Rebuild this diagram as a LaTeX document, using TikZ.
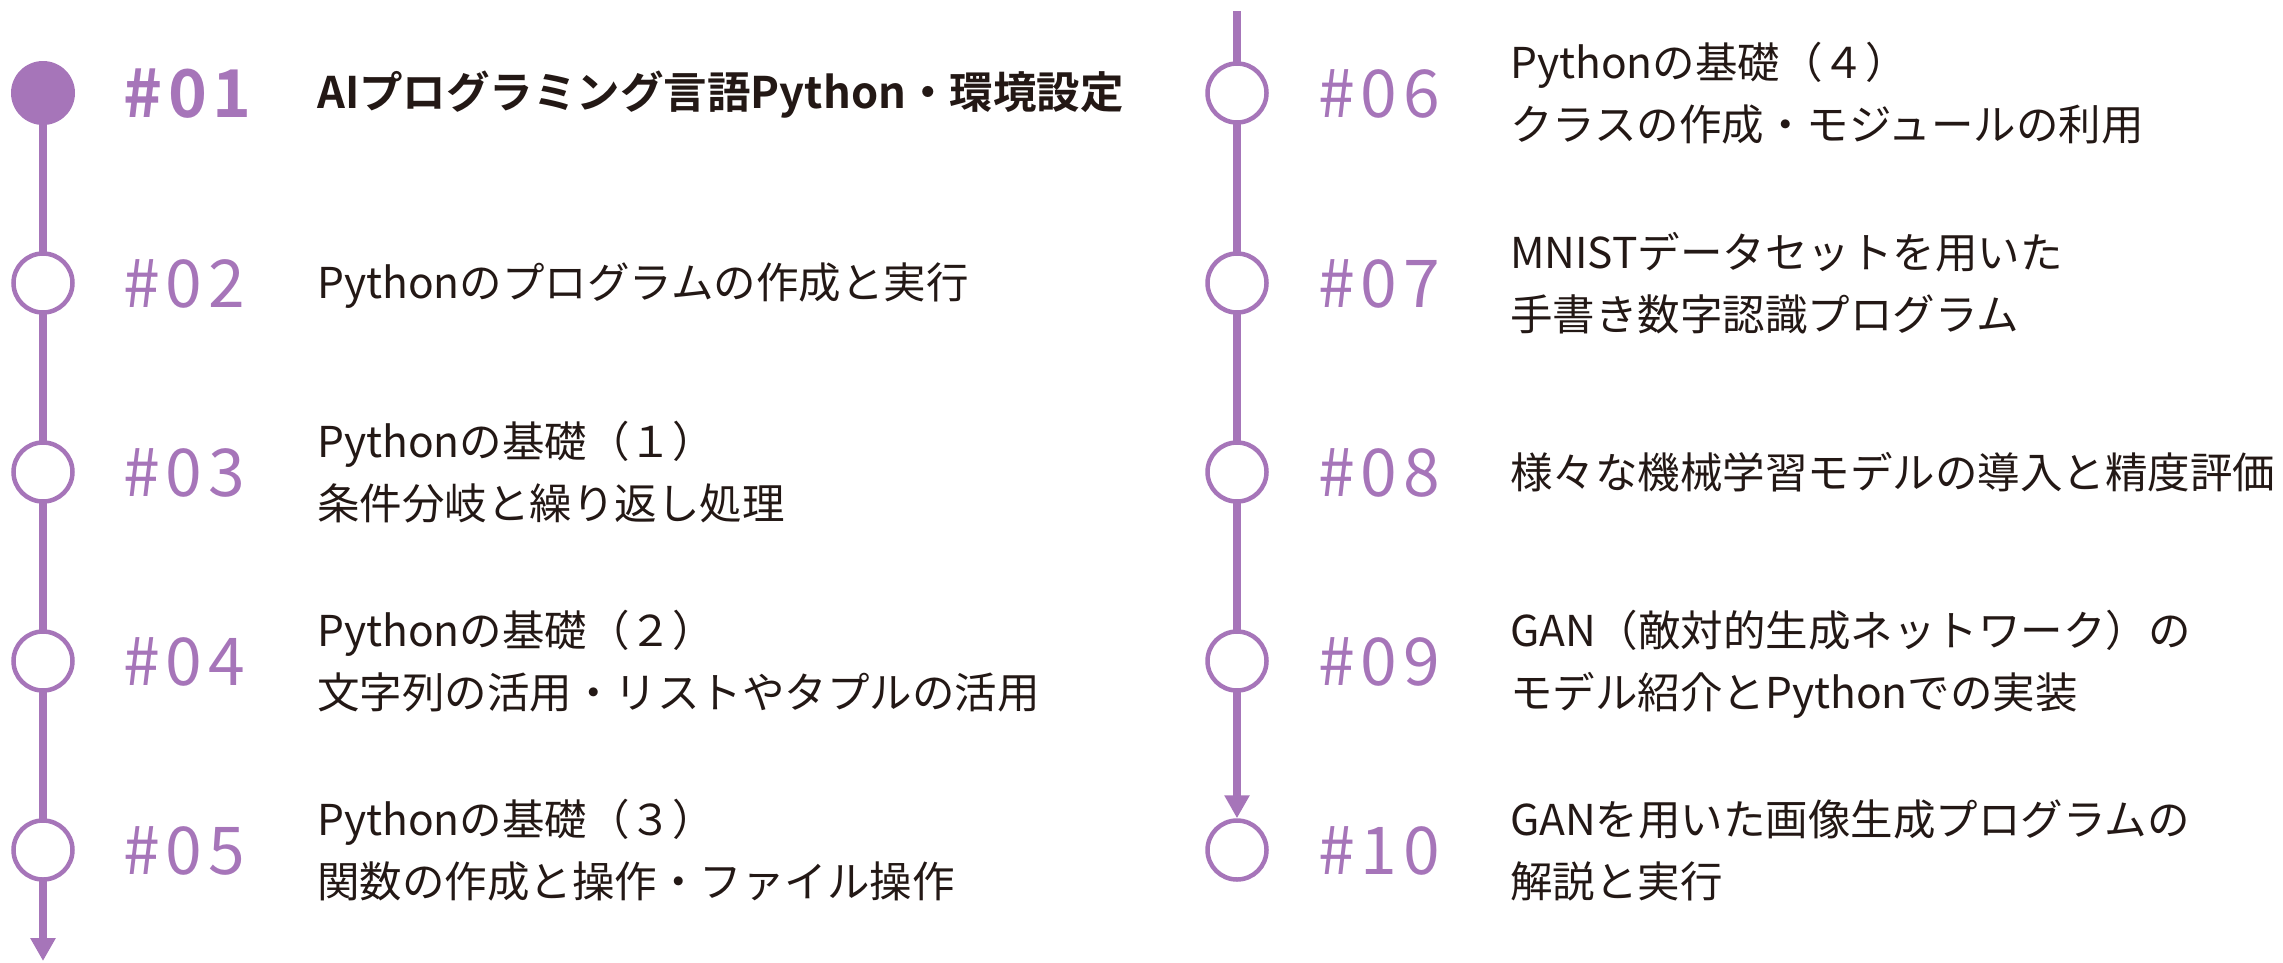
\documentclass[tikz,border=0pt]{standalone}
\usepackage{fontspec}
\setmainfont{Noto Sans CJK JP}[BoldFont={Noto Sans CJK JP Bold}]
\usetikzlibrary{arrows.meta}
\definecolor{pur}{HTML}{A675B9}
\definecolor{ink}{HTML}{231815}
\pgfdeclarelayer{bg}\pgfsetlayers{bg,main}
\begin{document}
\begin{tikzpicture}[x=1pt,y=-1pt,
  dot/.style={circle,draw=pur,line width=4.5pt,fill=white,minimum size=59pt,inner sep=0pt},
  dotfull/.style={circle,fill=pur,draw=none,minimum size=64pt,inner sep=0pt},
  num/.style={anchor=base west,text=pur,font=\fontsize{66}{66}\selectfont\addfontfeatures{LetterSpace=9},inner sep=0pt},
  desc/.style={anchor=base west,text=ink,font=\fontsize{42.5}{50}\selectfont,inner sep=0pt},
  rail/.style={draw=pur,line width=7.5pt},
  railtip/.style={-{Triangle[width=24pt,length=23pt]}}
]
\useasboundingbox (0,0) rectangle (2283,962);
% left column
\node[dotfull] (c1) at (43,93) {};
\node[dot] (c2) at (43,283) {};
\node[dot] (c3) at (43,472) {};
\node[dot] (c4) at (43,661) {};
\node[dot] (c5) at (43,850) {};
\coordinate (endL) at (43,961);
% right column
\coordinate (topR) at (1237,11);
\node[dot] (c6) at (1237,93) {};
\node[dot] (c7) at (1237,283) {};
\node[dot] (c8) at (1237,472) {};
\node[dot] (c9) at (1237,661) {};
\node[dot] (c10) at (1237,850) {};
\begin{pgfonlayer}{bg}
\draw[rail,railtip] (c1.center) -- (endL);
\draw[rail,railtip] (topR) -- (c10.north);
\end{pgfonlayer}
% numbers
\node[num,font=\fontsize{66}{66}\selectfont\bfseries\addfontfeatures{LetterSpace=9}] (n1) at (123,117) {\#01};
\node[num] (n2) at (123,307) {\#02};
\node[num] (n3) at (123,496) {\#03};
\node[num] (n4) at (123,685) {\#04};
\node[num] (n5) at (123,874) {\#05};
\node[num] (n6) at (1318,117) {\#06};
\node[num] (n7) at (1318,307) {\#07};
\node[num] (n8) at (1318,496) {\#08};
\node[num] (n9) at (1318,685) {\#09};
\node[num] (n10) at (1318,874) {\#10};
% descriptions
\node[desc,font=\fontsize{43.5}{50}\selectfont\bfseries] (d1) at (317,108) {AIプログラミング言語Python・環境設定};
\node[desc] (d2) at (317,298) {Pythonのプログラムの作成と実行};
\node[desc] (d3a) at (317,457) {Pythonの基礎（１）};
\node[desc] (d3b) at (317,519) {条件分岐と繰り返し処理};
\node[desc] (d4a) at (317,646) {Pythonの基礎（２）};
\node[desc] (d4b) at (317,708) {文字列の活用・リストやタプルの活用};
\node[desc] (d5a) at (317,835) {Pythonの基礎（３）};
\node[desc] (d5b) at (317,897) {関数の作成と操作・ファイル操作};
\node[desc] (d6a) at (1510,78) {Pythonの基礎（４）};
\node[desc] (d6b) at (1510,140) {クラスの作成・モジュールの利用};
\node[desc] (d7a) at (1510,268) {MNISTデータセットを用いた};
\node[desc] (d7b) at (1510,330) {手書き数字認識プログラム};
\node[desc] (d8) at (1510,488) {様々な機械学習モデルの導入と精度評価};
\node[desc] (d9a) at (1510,646) {GAN（敵対的生成ネットワーク）の};
\node[desc] (d9b) at (1510,708) {モデル紹介とPythonでの実装};
\node[desc] (d10a) at (1510,835) {GANを用いた画像生成プログラムの};
\node[desc] (d10b) at (1510,897) {解説と実行};
\end{tikzpicture}
\end{document}
